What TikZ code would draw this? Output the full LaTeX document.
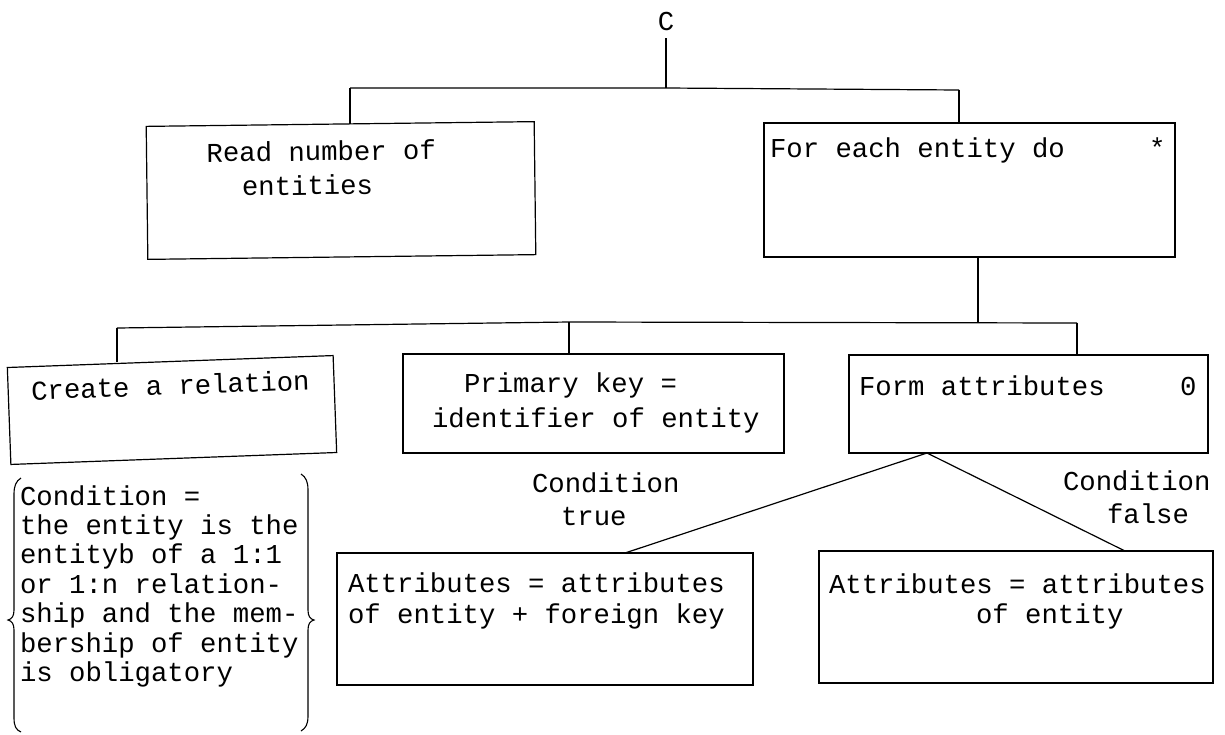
\documentclass[tikz,border=0pt]{standalone}
\usepackage{fontspec}
\setmonofont{Liberation Mono}
\begin{document}
\begin{tikzpicture}[x=1pt,y=-1pt,line width=1.2pt,
  every node/.style={font=\ttfamily\fontsize{27.3}{30}\selectfont,inner sep=0pt,outer sep=0pt},
  box/.style={draw,rectangle,inner sep=0pt},
  txt/.style={anchor=base west}]
\useasboundingbox (0,0) rectangle (1225,734);

% root
\node[anchor=base] (c) at (666,30) {C};
\coordinate (j1) at (666,88);
\coordinate (ja) at (350,88);
\coordinate (jb) at (959,90);
\draw (c.south) ++(0,8) -- (j1);
\draw (ja) -- (j1) -- (jb);

% first level
\begin{scope}[shift={(341,190.5)},rotate=0.7,transform shape]
  \node[box,minimum width=388pt,minimum height=133pt] (a) at (0,0) {};
  \node[txt] (a1) at (-134,-30) {Read number of};
  \node[txt] (a2) at (-99,4) {entities};
\end{scope}
\node[box,minimum width=411pt,minimum height=134pt] (b) at (969.5,190) {};
\node[txt] (b1) at (770,157) {For each entity do};
\node[txt] (b2) at (1149,157) {*};
\draw (ja) -- (ja |- a.north);
\draw (jb) -- (jb |- b.north);

% second level
\coordinate (jc) at (978,322);
\coordinate (k1) at (117,328);
\coordinate (k2) at (569,322);
\coordinate (k3) at (1077,323);
\draw (b.south -| jc) -- (jc);
\draw (k1) -- (k2) -- (k3);

\begin{scope}[shift={(172,410)},rotate=2.1,transform shape]
  \node[box,minimum width=326pt,minimum height=97pt] (cr) at (0,0) {};
  \node[txt] (cr1) at (-140,-15) {Create a relation};
\end{scope}
\node[box,minimum width=381pt,minimum height=99pt] (d) at (593.5,403.5) {};
\node[txt] (d1) at (464,392) {Primary key =};
\node[txt] (d2) at (432,427) {identifier of entity};
\node[box,minimum width=359pt,minimum height=98pt] (e) at (1028.5,404) {};
\node[txt] (e1) at (859,395) {Form attributes};
\node[txt] (e2) at (1180,395) {0};
\draw (k1) -- (k1 |- cr.north);
\draw (k2) -- (k2 |- d.north);
\draw (k3) -- (k3 |- e.north);

% selection
\coordinate (apex) at (927,453);
\coordinate (gt) at (625,553);
\coordinate (ft) at (1125,551);
\node[box,minimum width=416pt,minimum height=132pt] (g) at (545,619) {};
\node[txt] (g1) at (348,592) {Attributes = attributes};
\node[txt] (g2) at (348,623) {of entity + foreign key};
\node[box,minimum width=394pt,minimum height=132pt] (f) at (1016,617) {};
\node[txt] (f1) at (829,593) {Attributes = attributes};
\node[txt] (f2) at (976,623) {of entity};
\draw (apex) -- (gt);
\draw (apex) -- (ft);
\node[txt] (t1) at (532,492) {Condition};
\node[txt] (t2) at (561,525) {true};
\node[txt] (u1) at (1063,490) {Condition};
\node[txt] (u2) at (1107,523) {false};

% condition in braces
\node[txt] (q1) at (20,505) {Condition =};
\node[txt] (q2) at (20,534) {the entity is the};
\node[txt] (q3) at (20,563) {entityb of a 1:1};
\node[txt] (q4) at (20,593) {or 1:n relation-};
\node[txt] (q5) at (20,622) {ship and the mem-};
\node[txt] (q6) at (20,652) {bership of entity};
\node[txt] (q7) at (20,681) {is obligatory};
\draw[line width=1.1pt] (21,478) .. controls (16,481) and (14,486) .. (14,494)
  -- (14,610) .. controls (14,616) and (12,619) .. (8,620)
  .. controls (12,621) and (14,624) .. (14,630)
  -- (14,718) .. controls (14,726) and (16,730) .. (21,732);
\draw[line width=1.1pt] (301,474) .. controls (306,477) and (308,482) .. (308,490)
  -- (308,610) .. controls (308,616) and (310,619) .. (314,620)
  .. controls (310,621) and (308,624) .. (308,630)
  -- (308,716) .. controls (308,724) and (306,728) .. (301,731);
\end{tikzpicture}
\end{document}
